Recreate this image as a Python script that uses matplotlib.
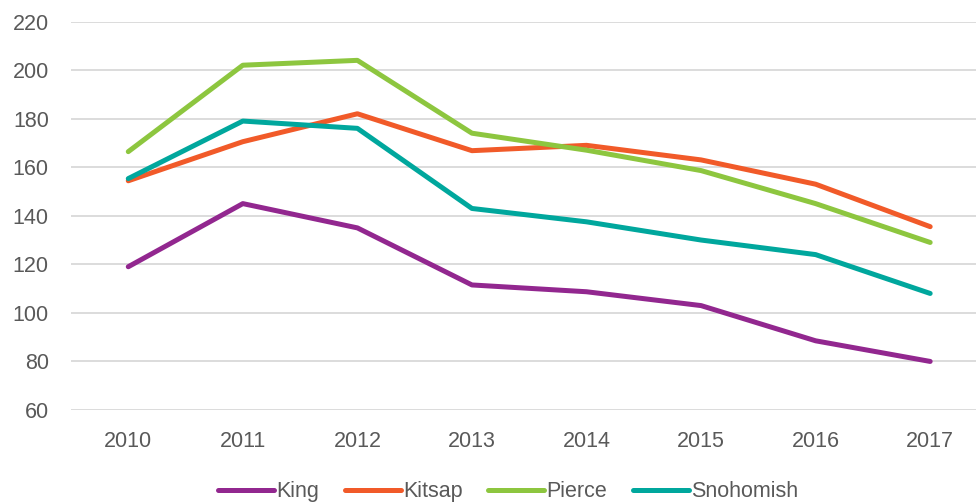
import matplotlib
matplotlib.use("Agg")
import matplotlib.pyplot as plt

years = ['2010', '2011', '2012', '2013', '2014', '2015', '2016', '2017']
king = [119, 145, 135, 111.5, 108.7, 103, 88.5, 80]
kitsap = [154.4, 170.5, 182, 166.8, 169, 163, 153, 135.5]
pierce = [166.4, 202, 204, 174, 167, 158.6, 145, 129]
snohomish = [155.3, 179, 176, 143, 137.5, 130, 124, 108]

names = ['King', 'Kitsap', 'Pierce', 'Snohomish']
colors = ['#92278F', '#F15A29', '#8DC63F', '#00A79D']

plt.rcParams['font.family'] = ['Liberation Sans', 'DejaVu Sans']

fig = plt.figure(figsize=(9.76, 5.04), dpi=100)
ax = fig.add_axes([71 / 976, (504 - 410) / 504, 1 - 71 / 976, (410 - 21.5) / 504])

pos = list(range(len(years)))
for vals, name, c in zip([king, kitsap, pierce, snohomish], names, colors):
    ax.plot(pos, vals, color=c, linewidth=3.6, label=name, solid_capstyle='round')

ax.set_ylim(60, 220)
ax.set_yticks(range(60, 221, 20))
ax.set_xlim(-0.5, 7.4)
ax.set_xticks(pos)
ax.set_xticklabels(years)
ax.grid(axis='y', color='#d9d9d9', linewidth=1.3)
ax.set_axisbelow(True)
for s in ax.spines.values():
    s.set_visible(False)
ax.tick_params(length=0, labelsize=15.5, labelcolor='#595959')
ax.tick_params(axis='y', pad=16)
ax.tick_params(axis='x', pad=15)

ax.legend(loc='center', bbox_to_anchor=(0.483, -0.21), ncol=4, frameon=False,
          fontsize=15.5, labelcolor='#595959', handlelength=2.6, handletextpad=0.1,
          columnspacing=1.2)

plt.savefig('out.png', dpi=100)
